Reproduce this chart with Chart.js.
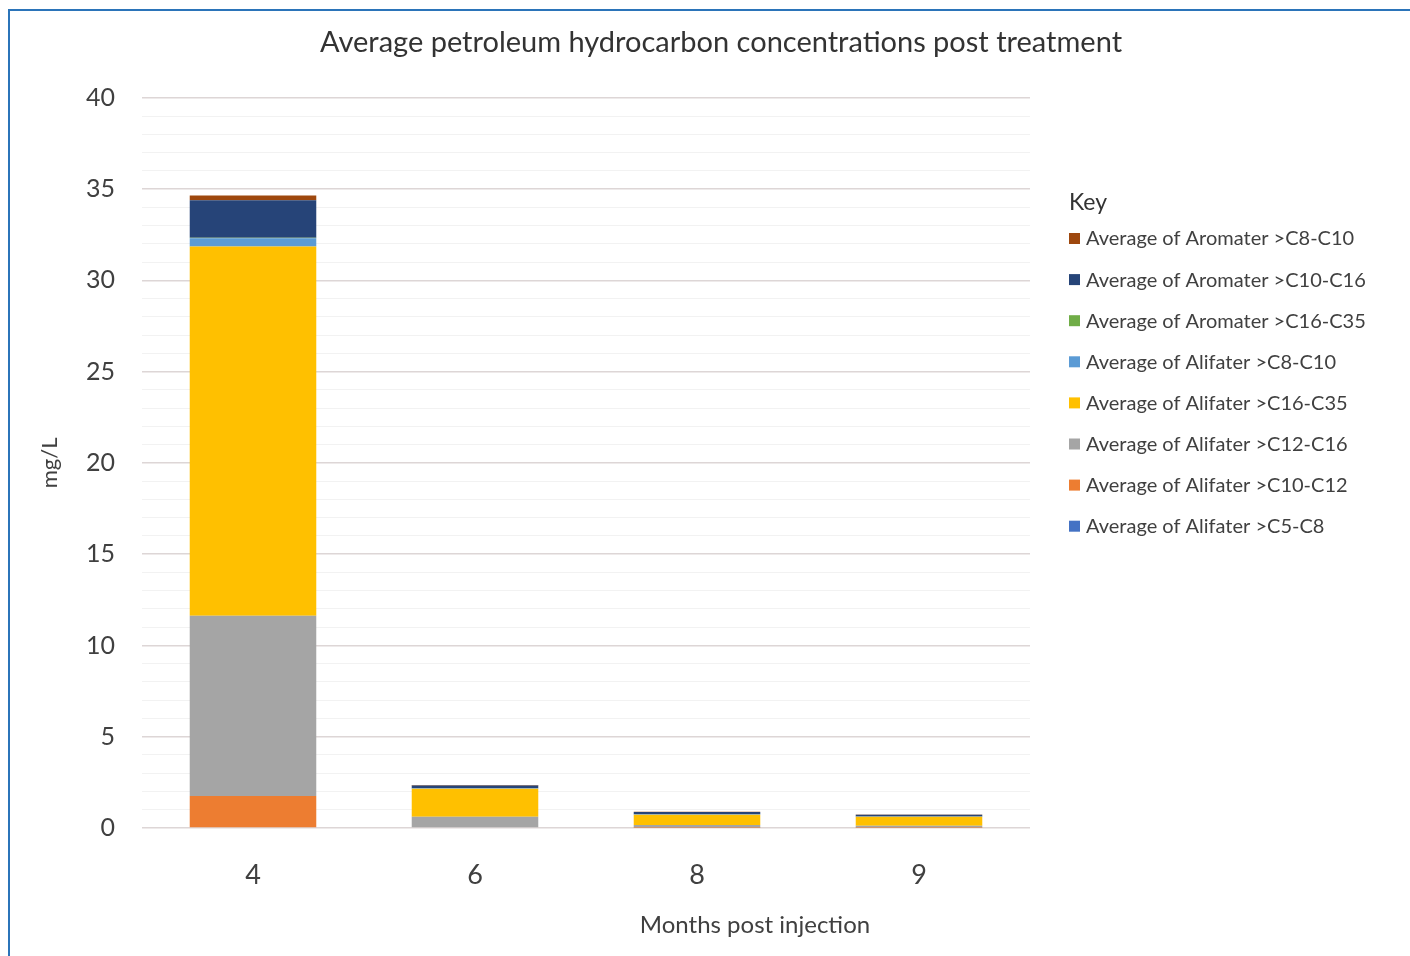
<!DOCTYPE html>
<html>
<head>
<meta charset="utf-8">
<script src="https://cdn.jsdelivr.net/npm/chart.js@4/dist/chart.umd.min.js"></script>
<style>
  html, body { margin: 0; padding: 0; background: #ffffff; overflow: hidden; }
  #wrap { position: relative; width: 1410px; height: 956px; }
  #frame { position: absolute; left: 8px; top: 9px; width: 1500px; height: 1000px;
           border-left: 2px solid #2b74b9; border-top: 2px solid #2b74b9; pointer-events: none; }
  canvas { position: absolute; left: 0; top: 0; }
</style>
</head>
<body>
<div id="wrap">
  <canvas id="c" width="1410" height="956"></canvas>
  <div id="frame"></div>
</div>
<script>
const months = ['4', '6', '8', '9'];

const aliC5C8   = [0.00, 0.00, 0.00, 0.00];
const aliC10C12 = [1.75, 0.04, 0.02, 0.02];
const aliC12C16 = [9.88, 0.58, 0.15, 0.11];
const aliC16C35 = [20.22, 1.53, 0.56, 0.48];
const aliC8C10  = [0.46, 0.03, 0.02, 0.02];
const aroC16C35 = [0.02, 0.00, 0.00, 0.00];
const aroC10C16 = [2.06, 0.15, 0.12, 0.10];
const aroC8C10  = [0.26, 0.02, 0.02, 0.01];

const yTickLabels = [0, 5, 10, 15, 20, 25, 30, 35, 40];

const titleText = 'Average petroleum hydrocarbon concentrations post treatment';
const xTitleText = 'Months post injection';
const yTitleText = 'mg/L';
const legendTitle = 'Key';

const textColor = '#404040';

const datasets = [
  { label: 'Average of Alifater >C5-C8',    data: aliC5C8,   backgroundColor: '#4472c4' },
  { label: 'Average of Alifater >C10-C12',  data: aliC10C12, backgroundColor: '#ed7d31' },
  { label: 'Average of Alifater >C12-C16',  data: aliC12C16, backgroundColor: '#a5a5a5' },
  { label: 'Average of Alifater >C16-C35',  data: aliC16C35, backgroundColor: '#ffc000' },
  { label: 'Average of Alifater >C8-C10',   data: aliC8C10,  backgroundColor: '#5b9bd5' },
  { label: 'Average of Aromater >C16-C35',  data: aroC16C35, backgroundColor: '#70ad47' },
  { label: 'Average of Aromater >C10-C16',  data: aroC10C16, backgroundColor: '#264478' },
  { label: 'Average of Aromater >C8-C10',   data: aroC8C10,  backgroundColor: '#9e480e' }
].map(d => Object.assign(d, { barPercentage: 0.57, categoryPercentage: 1.0, borderWidth: 0 }));

const extrasPlugin = {
  id: 'extras',
  afterDraw(chart) {
    const ctx = chart.ctx;
    ctx.save();
    // x axis title
    ctx.fillStyle = textColor;
    ctx.font = '24px Lato';
    ctx.textAlign = 'center';
    ctx.textBaseline = 'middle';
    ctx.fillText(xTitleText, 755, 925);
    // legend
    ctx.textAlign = 'left';
    ctx.font = '23px Lato';
    ctx.fillStyle = '#333333';
    ctx.fillText(legendTitle, 1069, 203);
    ctx.font = '20px Lato';
    const ds = chart.data.datasets.slice().reverse();
    ds.forEach((d, k) => {
      const cy = 238 + 41.1 * k;
      ctx.fillStyle = d.backgroundColor;
      ctx.fillRect(1069, cy - 5, 11, 11);
      ctx.fillStyle = textColor;
      ctx.fillText(d.label, 1086, cy + 1);
    });
    ctx.restore();
  }
};

Chart.defaults.font.family = 'Lato';
Chart.defaults.color = textColor;

new Chart(document.getElementById('c'), {
  type: 'bar',
  data: { labels: months, datasets: datasets },
  options: {
    responsive: false,
    animation: false,
    devicePixelRatio: 1,
    layout: { padding: { left: 36, right: 4, top: 0, bottom: 0 } },
    plugins: {
      legend: { display: false },
      tooltip: { enabled: false },
      title: {
        display: true,
        text: titleText,
        color: '#333333',
        font: { size: 29, weight: 'normal', family: 'Lato' },
        padding: { top: 25, bottom: 38 }
      }
    },
    scales: {
      x: {
        stacked: true,
        grid: { display: false, drawTicks: false },
        border: { display: false },
        ticks: { font: { size: 27 }, color: textColor, padding: 31 },
        afterFit(scale) { scale.height = 128; }
      },
      y: {
        stacked: true,
        min: 0,
        max: 40,
        border: { display: false },
        grid: {
          drawTicks: false,
          color: (c) => (c.tick && c.tick.value % 5 === 0) ? '#ddd6d6' : '#f2f2f2',
          lineWidth: (c) => (c.tick && c.tick.value % 5 === 0) ? 1.6 : 1
        },
        ticks: {
          stepSize: 1,
          autoSkip: false,
          font: { size: 25 },
          color: textColor,
          padding: 27,
          callback: (v) => yTickLabels.includes(v) ? String(v) : ''
        },
        title: {
          display: true,
          text: yTitleText,
          font: { size: 22 },
          color: textColor,
          padding: { top: 1, bottom: 0 }
        },
        afterFit(scale) { scale.width = 106; }
      },
      legendSpace: {
        type: 'linear',
        position: 'right',
        display: true,
        grid: { display: false, drawTicks: false },
        border: { display: false },
        ticks: { display: false },
        afterFit(scale) { scale.width = 376; }
      }
    }
  },
  plugins: [extrasPlugin]
});
</script>
</body>
</html>
